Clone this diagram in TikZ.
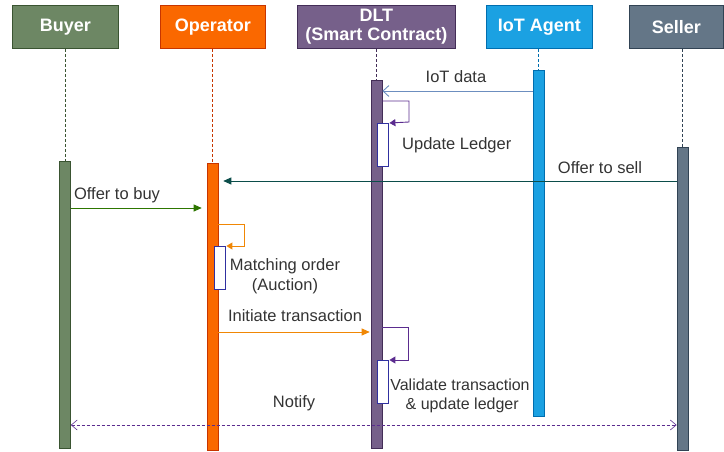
\documentclass[tikz,border=0pt]{standalone}
\usepackage{fontspec}
\setmainfont{Liberation Sans}
\usetikzlibrary{arrows.meta}
\definecolor{buyF}{HTML}{6D8764}\definecolor{buyD}{HTML}{3A5431}
\definecolor{opF}{HTML}{FA6800}\definecolor{opD}{HTML}{C73500}
\definecolor{dltF}{HTML}{76608A}\definecolor{dltD}{HTML}{432D57}
\definecolor{iotF}{HTML}{1BA1E2}\definecolor{iotD}{HTML}{006EAF}
\definecolor{selF}{HTML}{647687}\definecolor{selD}{HTML}{314354}
\definecolor{msgBlue}{HTML}{6C8EBF}
\definecolor{msgTeal}{HTML}{0B4D4A}
\definecolor{msgGreen}{HTML}{2D7600}
\definecolor{msgOrange}{HTML}{F08705}
\definecolor{loopPurple}{HTML}{5B2C8F}
\definecolor{navy}{HTML}{3030A0}
\definecolor{txt}{HTML}{333333}
\begin{document}
\begin{tikzpicture}[x=1pt,y=-1pt,
  head/.style={draw=#1,line width=0.8pt,minimum height=43pt,inner sep=0pt,text=white,font=\fontsize{18}{19.5}\selectfont\bfseries,align=center,anchor=north west},
  bar/.style={draw=#1,line width=0.6pt,anchor=north,minimum width=11pt,inner sep=0pt},
  life/.style={densely dashed,draw=#1,line width=0.5pt},
  lbl/.style={font=\fontsize{16.5}{19.5}\selectfont,text=txt,inner sep=0pt,align=center},
  act/.style={draw=navy,fill=white,line width=0.8pt,minimum width=11pt,inner sep=0pt,anchor=north},
  msg/.style={line width=0.9pt}
]
\useasboundingbox (0,0) rectangle (724,452);
% headers
\node[head=buyD,fill=buyF,minimum width=106pt] (hbuy) at (12,5) {Buyer};
\node[head=opD,fill=opF,minimum width=105pt] (hop) at (160,5) {Operator};
\node[head=dltD,fill=dltF,minimum width=158pt] (hdlt) at (297,5) {DLT\\(Smart Contract)};
\node[head=iotD,fill=iotF,minimum width=106pt] (hiot) at (486,5) {IoT Agent};
\node[head=selD,fill=selF,minimum width=94pt] (hsel) at (629,5) {Seller};
% bars
\node[bar=buyD,fill=buyF,minimum height=287pt] (bbuy) at (65,161) {};
\node[bar=opD,fill=opF,minimum height=287pt] (bop) at (212.5,163) {};
\node[bar=dltD,fill=dltF,minimum height=368pt] (bdlt) at (376.5,80) {};
\node[bar=iotD,fill=iotF,minimum height=346pt] (biot) at (538.5,70) {};
\node[bar=selD,fill=selF,minimum height=303pt] (bsel) at (682.5,147) {};
% lifelines
\draw[life=buyD] (hbuy.south -| bbuy.north) -- (bbuy.north);
\draw[life=opD] (hop.south -| bop.north) -- (bop.north);
\draw[life=dltD] (hdlt.south -| bdlt.north) -- (bdlt.north);
\draw[life=iotD] (hiot.south -| biot.north) -- (biot.north);
\draw[life=selD] (hsel.south -| bsel.north) -- (bsel.north);
% IoT data
\coordinate (iotS) at (biot.west |- 0,91);
\coordinate (iotE) at (bdlt.east |- 0,91);
\draw[msg,msgBlue,-{Straight Barb[length=6pt,width=11pt]}] (iotS) -- (iotE);
\node[lbl] (liot) at (456,77) {IoT data};
% Update ledger loop
\node[act,minimum height=43pt] (a1) at (382.5,123) {};
\coordinate (l1a) at (bdlt.east |- 0,101);
\coordinate (l1b) at (409,101);
\coordinate (l1c) at (409,122);
\coordinate (l1d) at (a1.north east);
\draw[msg,loopPurple,-{Triangle[length=6pt,width=7pt]}] (l1a) -- (l1b) -- (l1c) -- ([xshift=1pt]l1d);
\node[lbl,anchor=west] (lupd) at (402,145) {Update Ledger};
% Offer to sell
\coordinate (sellS) at (bsel.west |- 0,181);
\coordinate (sellE) at ([xshift=5pt]bop.east |- 0,181);
\draw[msg,msgTeal,-{Triangle[length=8pt,width=7pt]}] (sellS) -- (sellE);
\node[lbl] (lsell) at (600,168) {Offer to sell};
% Offer to buy
\coordinate (buyS) at (bbuy.east |- 0,208);
\coordinate (buyE) at ([xshift=-5pt]bop.west |- 0,208);
\draw[msg,msgGreen,-{Triangle[length=8pt,width=7pt]}] (buyS) -- (buyE);
\node[lbl] (lbuy) at (117,195) {Offer to buy};
% Matching loop
\node[act,minimum height=43pt] (a2) at (219.5,246) {};
\coordinate (l2a) at (bop.east |- 0,224);
\coordinate (l2b) at (244,224);
\coordinate (l2c) at (244,246);
\coordinate (l2d) at (a2.north east);
\draw[msg,msgOrange,-{Triangle[length=6pt,width=7pt]}] (l2a) -- (l2b) -- (l2c) -- ([xshift=1pt]l2d);
\node[lbl] (lmatch) at (285,276) {Matching order\\(Auction)};
% Initiate transaction
\coordinate (initS) at (bop.east |- 0,332);
\coordinate (initE) at ([xshift=-1pt]bdlt.west |- 0,332);
\draw[msg,msgOrange,-{Triangle[length=8pt,width=7pt]}] (initS) -- (initE);
\node[lbl] (linit) at (295,316) {Initiate transaction};
% Validate loop
\node[act,minimum height=43pt] (a3) at (382.5,360) {};
\coordinate (l3a) at (bdlt.east |- 0,327);
\coordinate (l3b) at (408,327);
\coordinate (l3c) at (408,360);
\coordinate (l3d) at (a3.north east);
\draw[msg,loopPurple,-{Triangle[length=6pt,width=7pt]}] (l3a) -- (l3b) -- (l3c) -- ([xshift=1pt]l3d);
\node[lbl,font=\fontsize{16}{19.5}\selectfont] (lval) at (460,396) {Validate transaction\\\ \& update ledger};
% Notify
\coordinate (notS) at (bsel.west |- 0,425);
\coordinate (notE) at (bbuy.east |- 0,425);
\draw[line width=0.6pt,loopPurple,densely dashed,{Straight Barb[length=6pt,width=10pt]}-{Straight Barb[length=6pt,width=10pt]}] (notE) -- (notS);
\node[lbl] (lnot) at (294,403) {Notify};
\end{tikzpicture}
\end{document}
